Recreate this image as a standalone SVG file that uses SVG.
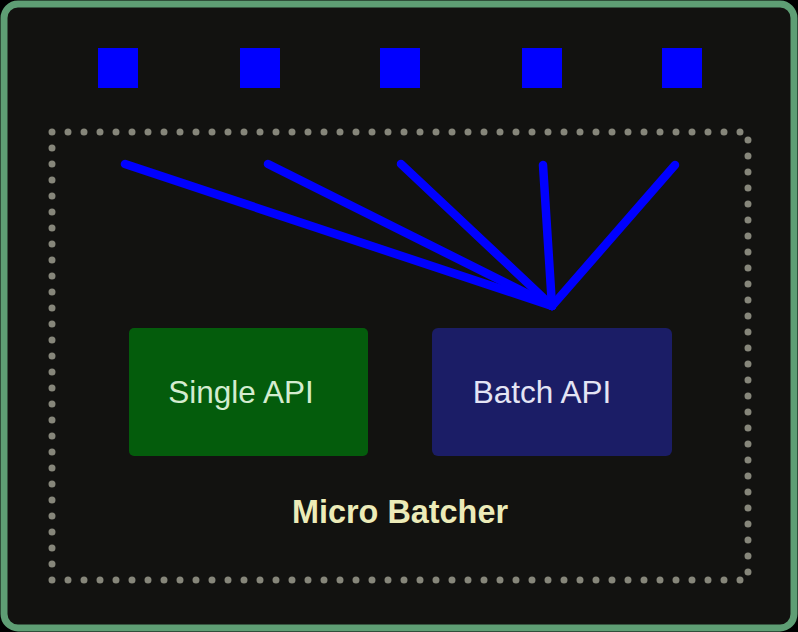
<svg xmlns="http://www.w3.org/2000/svg" width="798" height="632" viewBox="0 0 798 632">
<defs>
<style>
.sq{fill:#0000ff}
.conn{stroke:#0000ff;stroke-width:8.5;stroke-linecap:round;fill:none}
.lbl{font-family:"Liberation Sans",Arial,sans-serif;font-size:31.5px;text-anchor:middle}
</style>
</defs>
<rect x="0" y="0" width="798" height="632" fill="#000"/>
<rect x="4" y="4" width="790" height="624" rx="14" fill="#121210" stroke="#5e9e74" stroke-width="7"/>
<g id="squares">
<rect id="sq1" class="sq" x="98" y="48" width="40" height="40"/>
<rect id="sq2" class="sq" x="240" y="48" width="40" height="40"/>
<rect id="sq3" class="sq" x="380" y="48" width="40" height="40"/>
<rect id="sq4" class="sq" x="522" y="48" width="40" height="40"/>
<rect id="sq5" class="sq" x="662" y="48" width="40" height="40"/>
</g>
<g id="micro-batcher">
<rect x="52" y="132" width="696" height="448" fill="none" stroke="#86867a" stroke-width="7" stroke-dasharray="0 16" stroke-linecap="round"/>
<text x="400" y="523" font-family="Liberation Sans,Arial,sans-serif" font-size="32.4" font-weight="bold" text-anchor="middle" fill="#ecebb8">Micro Batcher</text>
</g>
<g id="connectors">
<line class="conn" x1="125" y1="164" x2="552" y2="306"/>
<line class="conn" x1="268" y1="164" x2="552" y2="306"/>
<line class="conn" x1="401" y1="164" x2="552" y2="306"/>
<line class="conn" x1="543" y1="165" x2="552" y2="306"/>
<line class="conn" x1="675" y1="165" x2="552" y2="306"/>
</g>
<g id="single-api">
<rect x="129" y="328" width="239" height="128" rx="5" fill="#045c0c"/>
<text class="lbl" x="241" y="403" fill="#d4ecd0">Single API</text>
</g>
<g id="batch-api">
<rect x="432" y="328" width="240" height="128" rx="6" fill="#1b1d66"/>
<text class="lbl" x="542" y="403" fill="#e4e4f4">Batch API</text>
</g>
</svg>
